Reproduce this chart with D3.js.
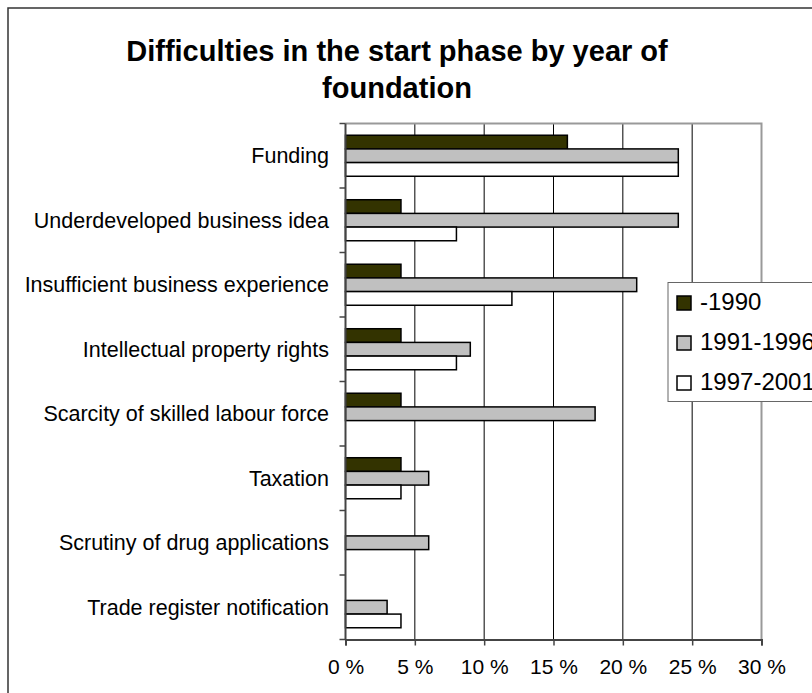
<!DOCTYPE html>
<html>
<head>
<meta charset="utf-8">
<script src="https://cdn.jsdelivr.net/npm/d3@7"></script>
<style>
  body { margin: 0; background: #fff; }
  svg { display: block; font-family: "Liberation Sans", Arial, sans-serif; }
</style>
</head>
<body>
<div class="graph_wrapper"></div>
<script>
var categories = [
  'Funding',
  'Underdeveloped business idea',
  'Insufficient business experience',
  'Intellectual property rights',
  'Scarcity of skilled labour force',
  'Taxation',
  'Scrutiny of drug applications',
  'Trade register notification'
];
var seriesNames = ['-1990', '1991-1996', '1997-2001'];
var until1990 = [16, 4, 4, 4, 4, 4, 0, 0];
var from1991to1996 = [24, 24, 21, 9, 18, 6, 6, 3];
var from1997to2001 = [24, 8, 12, 8, 0, 4, 0, 4];
var xTicks = [0, 5, 10, 15, 20, 25, 30];

var seriesValues = [until1990, from1991to1996, from1997to2001];
var colors = ['#333300', '#c0c0c0', '#ffffff'];

var width = 812;
var height = 693;
var plot = { left: 345.5, right: 761.5, top: 123.5, bottom: 639.5 };

var svg = d3.select('.graph_wrapper').append('svg')
  .attr('width', width).attr('height', height);

// outer chart frame
svg.append('rect')
  .attr('x', 8).attr('y', 8).attr('width', 900).attr('height', 900)
  .attr('fill', 'none').attr('stroke', '#333').attr('stroke-width', 1.5);

var title = svg.append('text')
  .attr('text-anchor', 'middle')
  .attr('font-size', 29).attr('font-weight', 'bold');
title.append('tspan').attr('x', 397).attr('y', 61).text('Difficulties in the start phase by year of');
title.append('tspan').attr('x', 397).attr('y', 98).text('foundation');

var x = d3.scaleLinear().domain([0, 30]).range([plot.left, plot.right]);
var y = d3.scaleBand().domain(categories).range([plot.top, plot.bottom])
  .paddingInner(0.364).paddingOuter(0.182);
var ySub = d3.scaleBand().domain(seriesNames).range([0, y.bandwidth()]);

// gridlines
svg.append('g').selectAll('line').data(xTicks.slice(1, -1)).enter().append('line')
  .attr('x1', function (d) { return x(d); }).attr('x2', function (d) { return x(d); })
  .attr('y1', plot.top).attr('y2', plot.bottom)
  .attr('stroke', '#000').attr('stroke-width', 1);

// plot border top + right
svg.append('path')
  .attr('d', 'M' + plot.left + ',' + plot.top + 'H' + plot.right + 'V' + plot.bottom)
  .attr('fill', 'none').attr('stroke', '#999').attr('stroke-width', 2);

var rows = [];
categories.forEach(function (c, i) {
  seriesNames.forEach(function (s, j) {
    rows.push({ cat: c, series: s, value: seriesValues[j][i], color: colors[j] });
  });
});

svg.append('g').selectAll('rect').data(rows.filter(function (d) { return d.value > 0; }))
  .enter().append('rect')
  .attr('x', x(0))
  .attr('y', function (d) { return y(d.cat) + ySub(d.series); })
  .attr('width', function (d) { return x(d.value) - x(0); })
  .attr('height', ySub.bandwidth())
  .attr('fill', function (d) { return d.color; })
  .attr('stroke', '#000').attr('stroke-width', 1.5);

// axes
var xAxis = svg.append('g').attr('transform', 'translate(0,' + plot.bottom + ')')
  .call(d3.axisBottom(x).tickValues(xTicks).tickSize(6).tickPadding(14)
    .tickFormat(function (d) { return d + ' %'; }));
xAxis.select('.domain').attr('stroke', '#444').attr('stroke-width', 2);
xAxis.selectAll('.tick line').attr('stroke', '#444').attr('stroke-width', 1.5);
xAxis.selectAll('text').attr('font-size', 21).attr('fill', '#000')
  .attr('font-family', '"Liberation Sans", Arial, sans-serif');

var yTickPos = categories.map(function (c) { return y(c) - y.step() * 0.182; }).concat([plot.bottom]);
svg.append('g').selectAll('line').data(yTickPos).enter().append('line')
  .attr('x1', plot.left - 6).attr('x2', plot.left)
  .attr('y1', function (d) { return d; }).attr('y2', function (d) { return d; })
  .attr('stroke', '#444').attr('stroke-width', 1.5);
svg.append('line')
  .attr('x1', plot.left).attr('x2', plot.left)
  .attr('y1', plot.top).attr('y2', plot.bottom)
  .attr('stroke', '#444').attr('stroke-width', 2);

svg.append('g').selectAll('text').data(categories).enter().append('text')
  .attr('x', 329)
  .attr('y', function (d) { return y(d) + y.bandwidth() / 2; })
  .attr('dy', '0.36em')
  .attr('text-anchor', 'end')
  .attr('font-size', 21.5)
  .text(function (d) { return d; });

// legend
var legend = svg.append('g').attr('transform', 'translate(668,282.5)');
legend.append('rect')
  .attr('width', 200).attr('height', 119)
  .attr('fill', '#fff').attr('stroke', '#666').attr('stroke-width', 1);
var item = legend.selectAll('.legend').data(seriesNames).enter().append('g')
  .attr('class', 'legend')
  .attr('transform', function (d, i) { return 'translate(9,' + (13.5 + i * 40) + ')'; });
item.append('rect')
  .attr('width', 14).attr('height', 14)
  .attr('fill', function (d, i) { return colors[i]; })
  .attr('stroke', '#000').attr('stroke-width', 1.5);
item.append('text')
  .attr('x', 23).attr('y', 14)
  .attr('font-size', 24)
  .text(function (d) { return d; });
</script>
</body>
</html>
